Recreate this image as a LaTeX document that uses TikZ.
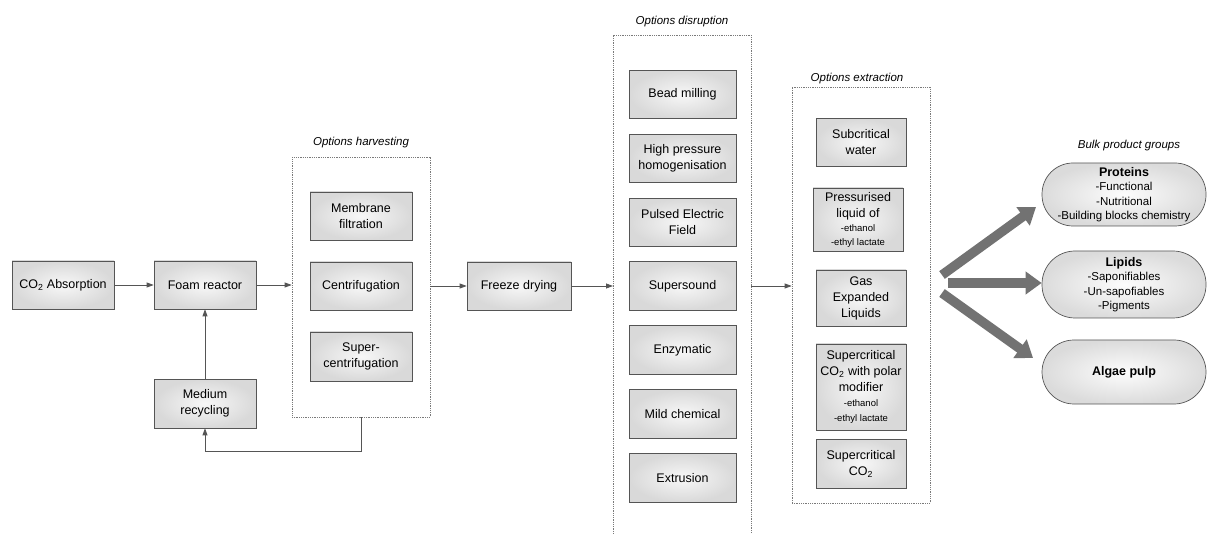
\documentclass[tikz,border=0pt]{standalone}
\usepackage{fontspec}
\setmainfont{Liberation Sans}
\usetikzlibrary{arrows.meta,calc}

\definecolor{edge}{HTML}{555555}
\definecolor{dashgrey}{HTML}{7A7A7A}
\definecolor{fanarrow}{HTML}{727272}

\tikzset{
  proc/.style={draw=edge, line width=0.7pt, shade, inner color=black!3, outer color=black!15,
    minimum width=102pt, minimum height=48pt, align=center, inner sep=1pt,
    font=\fontsize{12.5}{16}\selectfont},
  pill/.style={draw=edge, line width=0.7pt, shade, inner color=black!1, outer color=black!14,
    rounded corners=31pt, minimum width=164pt, align=center, inner sep=1pt,
    font=\fontsize{11.5}{14.5}\selectfont},
  optbox/.style={draw=dashgrey, line width=0.7pt, dash pattern=on 1pt off 0.8pt},
  optlabel/.style={font=\fontsize{11.5}{14}\selectfont\itshape},
  flow/.style={draw=edge, line width=0.8pt, -{Triangle[length=7pt,width=5pt]}},
  fan/.style={draw=fanarrow, line width=9.5pt, -{Triangle[length=16pt,width=22pt]}}
}
% smaller solvent lines inside the extraction boxes
\newcommand{\solvent}[1]{{\fontsize{9.5}{12}\selectfont #1}}

\begin{document}
\begin{tikzpicture}[x=1pt,y=-1pt]
\useasboundingbox (0,0) rectangle (1207,534);

% upstream chain
\node[proc] (co2) at (63,285) {CO\textsubscript{2} Absorption};
\node[proc] (foam) at (205,285) {Foam reactor};
\node[proc, minimum height=49pt] (medium) at (205,403.5) {Medium\\recycling};

% harvesting options
\node[optbox, minimum width=138pt, minimum height=260pt] (harv) at (361,287) {};
\node[optlabel] (harvlab) at (361,143) {Options harvesting};
\node[proc] (membrane) at (361,216) {Membrane\\filtration};
\node[proc] (centri) at (361,286) {Centrifugation};
\node[proc, minimum height=49pt] (supercentri) at (361,356.5) {Super-\\centrifugation};

\node[proc, minimum width=104pt] (freeze) at (519,286) {Freeze drying};

% disruption options (open at the bottom edge)
\draw[optbox] (613,534) |- (751,35) -- (751,534);
\coordinate (dleft) at (613,286);
\coordinate (dright) at (751,286);
\node[optlabel] (disrlab) at (682,22) {Options disruption};
\begin{scope}[every node/.style={proc, minimum width=107pt, minimum height=48.5pt}]
\node (bead) at (682.5,94.5) {Bead milling};
\node (hph) at (682.5,158.5) {High pressure\\homogenisation};
\node (pef) at (682.5,222.5) {Pulsed Electric\\Field};
\node (sound) at (682.5,286) {Supersound};
\node (enzym) at (682.5,350) {Enzymatic};
\node (mild) at (682.5,414) {Mild chemical};
\node (extru) at (682.5,478) {Extrusion};
\end{scope}

% extraction options
\node[optbox, minimum width=138pt, minimum height=416pt] (extr) at (861,295) {};
\node[optlabel] (extrlab) at (857,79) {Options extraction};
\begin{scope}[every node/.style={proc, minimum width=90pt}]
\node (subcrit) at (861,142.5) {Subcritical\\water};
\node[minimum height=63pt] (press) at (858,219.5) {Pressurised\\liquid of\\[-2pt]\solvent{-ethanol}\\[-2pt]\solvent{-ethyl lactate}};
\node[minimum height=56pt] (gel) at (861,298) {Gas\\Expanded\\Liquids};
\node[minimum height=86pt] (polar) at (861,387) {Supercritical\\CO\textsubscript{2} with polar\\modifier\\[-1pt]\solvent{-ethanol}\\[-1pt]\solvent{-ethyl lactate}};
\node[minimum height=49pt] (scco2) at (861,463.5) {Supercritical\\CO\textsubscript{2}};
\end{scope}

% product groups
\node[optlabel] (bulklab) at (1129,146) {Bulk product groups};
\node[pill, minimum height=63pt] (proteins) at (1124,194.5) {\textbf{\fontsize{12.5}{14.5}\selectfont Proteins}\\-Functional\\-Nutritional\\-Building blocks chemistry};
\node[pill, minimum height=67pt, rounded corners=33pt] (lipids) at (1124,284.5) {\textbf{\fontsize{12.5}{15}\selectfont Lipids}\\-Saponifiables\\-Un-sapofiables\\-Pigments};
\node[pill, minimum height=64pt, rounded corners=32pt] (pulp) at (1124,372) {\textbf{\fontsize{12.5}{15}\selectfont Algae pulp}};

% process flow
\draw[flow] (co2) -- (foam);
\draw[flow] (foam.east) -- (foam.east -| harv.west);
\draw[flow] (medium) -- (foam);
\draw[flow] (harv.south) -- ++(0,34) -| (medium.south);
\draw[flow] (harv.east |- freeze.west) -- (freeze.west);
\draw[flow] (freeze.east) -- (dleft);
\draw[flow] (dright) -- (dright -| extr.west);

% fan towards the product groups
\coordinate (fantop) at (942,275);
\coordinate (fanmid) at (948,283);
\coordinate (fanlow) at (942,293);
\draw[fan] (fantop) -- (1036,207);
\draw[fan] (fanmid) -- (fanmid -| lipids.west);
\draw[fan] (fanlow) -- (1033,358);
\end{tikzpicture}
\end{document}
